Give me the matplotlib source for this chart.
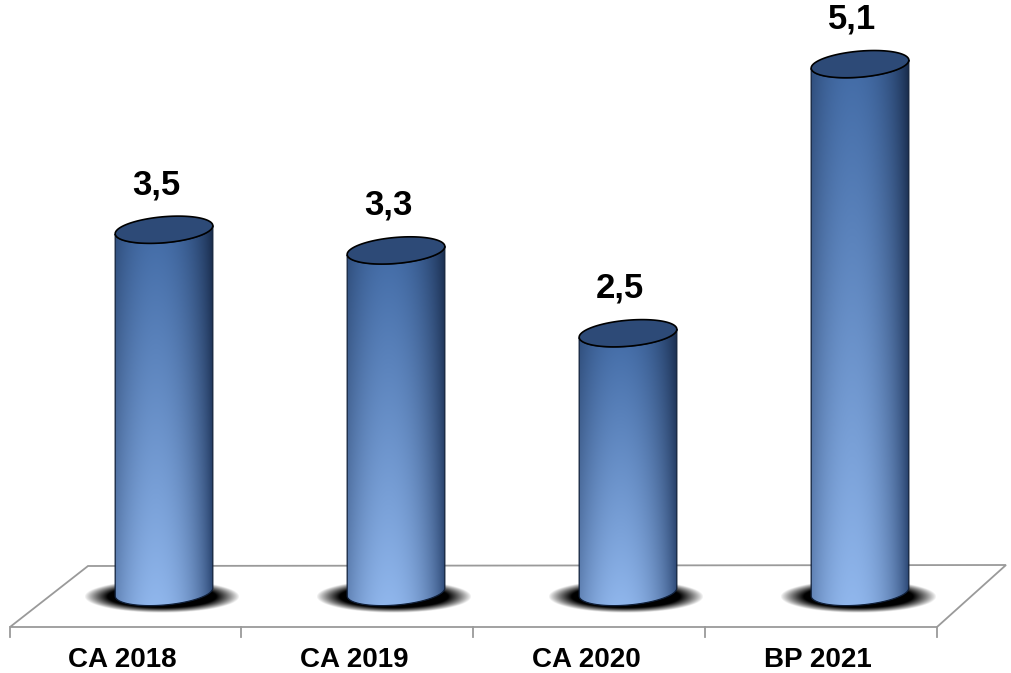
import numpy as np
import matplotlib.pyplot as plt
from matplotlib.path import Path
from matplotlib.patches import PathPatch, Polygon

categories = ["CA 2018", "CA 2019", "CA 2020", "BP 2021"]
values = [3.5, 3.3, 2.5, 5.1]
value_labels = ["3,5", "3,3", "2,5", "5,1"]

W, H = 1011, 673
fig = plt.figure(figsize=(W / 100, H / 100), dpi=100)
ax = fig.add_axes([0, 0, 1, 1])

# one category step = 232 px, one value unit = 103.5 px
sx, sy = 1 / 232, 1 / 103.5
x0, y0 = 164, 592  # pixel position of category 0 / value 0
ax.set_xlim(-x0 * sx, (W - x0) * sx)
ax.set_ylim(-(H - y0) * sy, y0 * sy)
ax.axis("off")

half_w = 49 * sx
ell_a, ell_b = 49, 13  # ellipse semi axes in px
tilt = np.deg2rad(5)


def ellipse_pts(cx, cy, t):
    dx = ell_a * np.cos(t)
    dy = ell_b * np.sin(t)
    rx = dx * np.cos(tilt) - dy * np.sin(tilt)
    ry = dx * np.sin(tilt) + dy * np.cos(tilt)
    return np.column_stack([cx + rx * sx, cy + ry * sy])


# floor
gray = "#9a9a9a"
floor = [(10, 627), (937, 627), (1006, 565), (88, 566)]
floor = [((px - x0) * sx, (y0 - py) * sy) for px, py in floor]
ax.add_patch(Polygon(floor, closed=True, fc="white", ec=gray, lw=1.3, zorder=1))
for px in [10, 241, 473, 705, 937]:
    xx = (px - x0) * sx
    ax.plot([xx, xx], [(y0 - 627) * sy, (y0 - 637) * sy], color=gray, lw=1.3, zorder=1)

# gradient for the cylinder bodies
nx, ny = 200, 200
u = np.linspace(0, 1, nx)
v = np.linspace(0, 1, ny)[:, None]
prof = np.clip(1 - ((u - 0.42) / 0.58) ** 2, 0, 1) ** 0.8
dark_top = np.array([0.09, 0.16, 0.28])
light_top = np.array([0.26, 0.42, 0.65])
dark_bot = np.array([0.16, 0.27, 0.45])
light_bot = np.array([0.57, 0.72, 0.93])
dark = dark_top + (dark_bot - dark_top) * v[..., None]
light = light_top + (light_bot - light_top) * v[..., None]
grad = dark + (light - dark) * prof[None, :, None]

# soft shadow texture
gx = np.linspace(-1, 1, 160)
gy = np.linspace(-1, 1, 60)
GX, GY = np.meshgrid(gx, gy)
r = np.sqrt(GX ** 2 + GY ** 2)
shadow = np.zeros((60, 160, 4))
shadow[..., 3] = np.clip((1 - r) / 0.3, 0, 1) ** 0.9

for i, (val, lab) in enumerate(zip(values, value_labels)):
    c = i
    # shadow under the base
    ax.imshow(shadow, extent=[c - 80 * sx, c + 76 * sx, -21 * sy, 12 * sy],
              aspect="auto", zorder=2, interpolation="bilinear")

    t_front = np.linspace(np.pi, 2 * np.pi, 60)
    bottom = ellipse_pts(c, 0, t_front)
    top = ellipse_pts(c, val, t_front)[::-1]
    verts = np.vstack([bottom, top, bottom[:1]])
    body = PathPatch(Path(verts, closed=True), fc="none", ec="#10203a", lw=0.9, zorder=4)
    ax.add_patch(body)
    im = ax.imshow(grad, extent=[c - half_w, c + half_w, -20 * sy, val],
                   aspect="auto", zorder=3, interpolation="bilinear")
    im.set_clip_path(body)

    t_all = np.linspace(0, 2 * np.pi, 120)
    cap = ellipse_pts(c, val, t_all)
    ax.add_patch(Polygon(cap, closed=True, fc="#2d4a77", ec="black", lw=1.2, zorder=5))

    ax.text(c - 8 * sx, val + 45 * sy, lab, ha="center", va="center",
            fontsize=25, fontweight="bold", family="Liberation Sans", zorder=6)
    ax.text(c - 42 * sx, (y0 - 660) * sy, categories[i], ha="center", va="center",
            fontsize=20, fontweight="bold", family="Liberation Sans")

fig.savefig("out.png", dpi=100)
